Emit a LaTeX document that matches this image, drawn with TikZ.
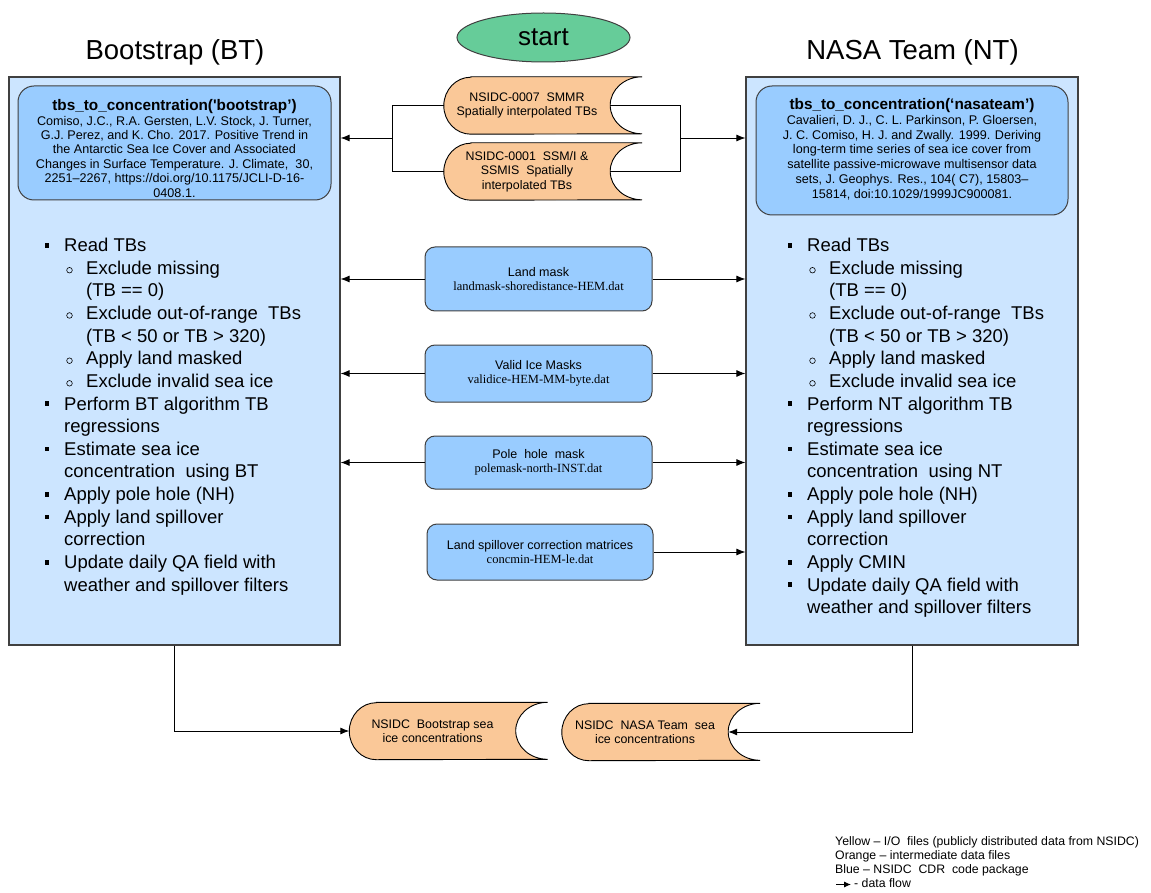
\documentclass[tikz,border=0pt]{standalone}
\usepackage{fontspec}
\setmainfont{Liberation Sans}
\newfontfamily\timesf{Liberation Serif}
\usetikzlibrary{shapes.geometric,arrows.meta,backgrounds}

\definecolor{bigblue}{HTML}{CCE5FF}
\definecolor{midblue}{HTML}{99CCFF}
\definecolor{orangefill}{HTML}{FAC898}
\definecolor{startgreen}{HTML}{66CC99}
\definecolor{edgegray}{HTML}{404040}

\tikzset{
  bigbox/.style={draw=edgegray, line width=1.2pt, fill=bigblue, minimum width=331pt, minimum height=568pt, inner sep=0pt},
  refbox/.style={draw=edgegray, line width=1pt, fill=midblue, rounded corners=16pt, inner sep=0pt},
  reftitle/.style={anchor=base, inner sep=0pt, font=\fontsize{15.3}{17}\selectfont\bfseries},
  reftext/.style={anchor=north, align=center, inner sep=0pt, font=\fontsize{12.6}{14.4}\selectfont},
  maskbox/.style={draw=edgegray, line width=1pt, fill=midblue, rounded corners=10pt, minimum width=227pt, inner sep=0pt, align=center, font=\fontsize{12.5}{14.5}\selectfont},
  tapenode/.style={minimum width=166pt, minimum height=57pt, inner sep=0pt, align=center, font=\fontsize{12.4}{14.5}\selectfont},
  tapeline/.style={draw=black, line width=0.9pt, fill=orangefill},
  flow/.style={draw=black, line width=0.9pt, -{Latex[length=9pt,width=7pt]}},
  link/.style={draw=black, line width=0.9pt},
  titletext/.style={font=\fontsize{27.5}{31}\selectfont, anchor=base, inner sep=0pt},
  startnode/.style={ellipse, draw=edgegray, line width=1pt, fill=startgreen, minimum width=173pt, minimum height=49pt, inner sep=0pt, font=\fontsize{26}{30}\selectfont},
  listtext/.style={font=\fontsize{18.5}{22}\selectfont, anchor=base west, inner sep=0pt},
  legendtext/.style={anchor=north west, align=left, inner sep=0pt, font=\fontsize{12.3}{14}\selectfont},
}

\newcommand\drawlist[3]{%
  \foreach \lev/\bul/\txt [count=\i from 0] in {#3} {%
    \pgfmathsetmacro\yb{-251.7-22.62*\i}
    \node[listtext] (#2\i) at ({#1+22*\lev},\yb) {\txt};
    \ifnum\bul=1
      \ifnum\lev=0
        \fill[black] ({#1-17-2.4},{\yb+3.8}) rectangle ++(4.8,4.8);
      \else
        \draw[black,line width=0.6pt] ({#1+5.5},{\yb+4.1}) circle[radius=2.8];
      \fi
    \fi
  }}

\begin{document}
\begin{tikzpicture}[x=1pt,y=1pt]
\useasboundingbox (0,0) rectangle (1151,-893);

% titles and start
\node[titletext] (bttitle) at (175,-60) {Bootstrap (BT)};
\node[titletext] (nttitle) at (912.5,-60) {NASA Team (NT)};
\node[startnode] (start) at (543.5,-37.5) {start};

% big boxes
\node[bigbox] (btbox) at (174.5,-361) {};
\node[bigbox, minimum width=332pt] (ntbox) at (912,-361) {};

% reference boxes
\node[refbox, minimum width=313pt, minimum height=114pt] (btref) at (174.5,-143) {};
\node[reftitle] (btreftitle) at (174.5,-110.7) {tbs\_to\_concentration(\textquotesingle bootstrap’)};
\node[reftext] (btreftext) at (174.5,-115.7) {%
  Comiso, J.C., R.A. Gersten, L.V. Stock, J. Turner,\\
  G.J. Perez, and K. Cho. 2017. Positive Trend in\\
  the Antarctic Sea Ice Cover and Associated\\
  Changes in Surface Temperature. J. Climate,\ \ 30,\\
  2251–2267, https://doi.org/10.1175/JCLI-D-16-\\
  0408.1.};

\node[refbox, minimum width=312pt, minimum height=129pt] (ntref) at (912,-150.5) {};
\node[reftitle] (ntreftitle) at (912,-110) {tbs\_to\_concentration(‘nasateam’)};
\node[reftext, font=\fontsize{12.6}{14.8}\selectfont] (ntreftext) at (912,-115) {%
  Cavalieri, D. J., C. L. Parkinson, P. Gloersen,\\
  J. C. Comiso, H. J. and Zwally. 1999. Deriving\\
  long-term time series of sea ice cover from\\
  satellite passive-microwave multisensor data\\
  sets, J. Geophys. Res., 104( C7), 15803–\\
  15814, doi:10.1029/1999JC900081.};

% stored data (tape) nodes
\node[tapenode] (smmr) at (527,-105.5) {NSIDC-0007\ \ SMMR\\Spatially interpolated TBs};
\node[tapenode] (ssmi) at (527,-171.5) {NSIDC-0001\ \ SSM/I \&\\SSMIS\ \ Spatially\\interpolated TBs};
\node[tapenode] (bttape) at (432.5,-731) {NSIDC\ \ Bootstrap sea\\ice concentrations};
\node[tapenode] (nttape) at (645,-732) {NSIDC\ \ NASA Team\ \ sea\\ice concentrations};

\begin{scope}[on background layer]
  \foreach \n in {smmr,ssmi,bttape,nttape} {
    \draw[tapeline] ([xshift=27pt]\n.north west) -- ([xshift=32pt]\n.north east)
      arc[start angle=90, end angle=270, x radius=32pt, y radius=28.5pt]
      -- ([xshift=27pt]\n.south west)
      arc[start angle=270, end angle=90, x radius=27pt, y radius=28.5pt] -- cycle;
  }
\end{scope}

% mask boxes
\node[maskbox, minimum height=64pt] (landmask) at (538.5,-279) {Land mask\\{\timesf landmask-shoredistance-HEM.dat}};
\node[maskbox, minimum height=57pt] (validice) at (538.5,-373.5) {Valid Ice Masks\\{\timesf validice-HEM-MM-byte.dat}};
\node[maskbox, minimum height=53pt] (polehole) at (538.5,-462.5) {Pole\ \ hole\ \ mask\\{\timesf polemask-north-INST.dat}};
\node[maskbox, minimum width=226pt, minimum height=56pt] (spill) at (540,-552) {Land spillover correction matrices\\{\timesf concmin-HEM-le.dat}};

% bullet lists
\drawlist{64}{btl}{0/1/Read TBs, 1/1/Exclude missing, 1/0/(TB == 0), 1/1/Exclude out-of-range\ \ TBs, 1/0/(TB < 50 or TB > 320), 1/1/Apply land masked, 1/1/Exclude invalid sea ice, 0/1/Perform BT algorithm TB, 0/0/regressions, 0/1/Estimate sea ice, 0/0/concentration\ \ using BT, 0/1/Apply pole hole (NH), 0/1/Apply land spillover, 0/0/correction, 0/1/Update daily QA field with, 0/0/weather and spillover filters}
\drawlist{807}{ntl}{0/1/Read TBs, 1/1/Exclude missing, 1/0/(TB == 0), 1/1/Exclude out-of-range\ \ TBs, 1/0/(TB < 50 or TB > 320), 1/1/Apply land masked, 1/1/Exclude invalid sea ice, 0/1/Perform NT algorithm TB, 0/0/regressions, 0/1/Estimate sea ice, 0/0/concentration\ \ using NT, 0/1/Apply pole hole (NH), 0/1/Apply land spillover, 0/0/correction, 0/1/Apply CMIN, 0/1/Update daily QA field with, 0/0/weather and spillover filters}

% connectors: input TBs
\coordinate (lfork) at (392,-138);
\coordinate (rfork) at (680,-138);
\draw[link] (smmr.west) -| (lfork);
\draw[link] (ssmi.west) -| (lfork);
\draw[flow] (lfork) -- (btbox.east |- lfork);
\draw[link] (smmr.east) -| (rfork);
\draw[link] (ssmi.east) -| (rfork);
\draw[flow] (rfork) -- (ntbox.west |- rfork);

% connectors: masks
\foreach \m in {landmask,validice,polehole} {
  \draw[flow] (\m.west) -- (btbox.east |- \m.west);
  \draw[flow] (\m.east) -- (ntbox.west |- \m.east);
}
\draw[flow] (spill.east) -- (ntbox.west |- spill.east);

% outputs
\draw[flow] (btbox.south) |- (bttape.west);
\draw[flow] (ntbox.south) |- (nttape.east);

% legend
\node[legendtext] (legend) at (835,-836) {Yellow – I/O\ \ files (publicly distributed data from NSIDC)\\Orange – intermediate data files\\Blue – NSIDC\ \ CDR\ \ code package\\\hspace*{19pt}- data flow};
\coordinate (lgfrom) at (836,-884.5);
\coordinate (lgto) at (851,-884.5);
\draw[link, -{Latex[length=7pt,width=6pt]}] (lgfrom) -- (lgto);
\end{tikzpicture}
\end{document}
